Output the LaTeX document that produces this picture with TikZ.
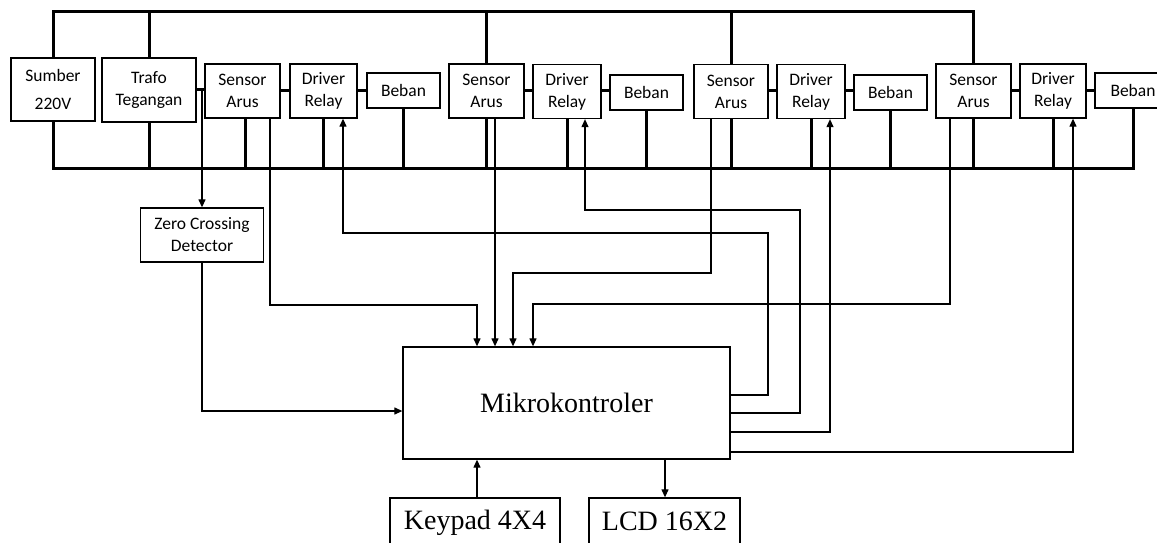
\documentclass[tikz,border=0pt]{standalone}
\usepackage{fontspec}
\setmainfont{Liberation Serif}
\newfontfamily\calib{Carlito}
\usetikzlibrary{arrows.meta}
\begin{document}
\begin{tikzpicture}[x=1pt,y=-1pt,
  box/.style={draw, line width=1.3pt, inner sep=0pt, align=center,
    font=\calib\fontsize{17.5}{22}\selectfont},
  bigbox/.style={draw, line width=1.3pt, inner sep=0pt, align=center,
    font=\fontsize{28}{30}\selectfont},
  bus/.style={line width=3pt},
  link/.style={line width=3pt},
  sig/.style={line width=1.2pt},
  arr/.style={-{Triangle[length=8pt,width=7pt]}}]
\useasboundingbox (0,0) rectangle (1157,543);
\clip (0,0) rectangle (1157,543);
% top row
\node[box, minimum width=84pt, minimum height=63pt] (sumber) at (53,89.5) {Sumber\\[6pt]220V};
\node[box, minimum width=94pt, minimum height=64pt] (trafo) at (149,90) {Trafo\\Tegangan};
\node[box, minimum width=75pt, minimum height=54pt] (sa1) at (242.5,91) {Sensor\\Arus};
\node[box, minimum width=67pt, minimum height=54pt] (dr1) at (323.5,91) {Driver\\Relay};
\node[box, minimum width=73pt, minimum height=35pt] (bb1) at (403.5,90.5) {Beban};
\node[box, minimum width=75pt, minimum height=54pt] (sa2) at (486.5,91) {Sensor\\Arus};
\node[box, minimum width=68pt, minimum height=54pt] (dr2) at (567,91.5) {Driver\\Relay};
\node[box, minimum width=73pt, minimum height=35pt] (bb2) at (646.5,92.5) {Beban};
\node[box, minimum width=74pt, minimum height=54pt] (sa3) at (731,91.5) {Sensor\\Arus};
\node[box, minimum width=68pt, minimum height=54pt] (dr3) at (811,91.5) {Driver\\Relay};
\node[box, minimum width=73pt, minimum height=35pt] (bb3) at (890.5,92.5) {Beban};
\node[box, minimum width=75pt, minimum height=54pt] (sa4) at (973.5,91) {Sensor\\Arus};
\node[box, minimum width=66pt, minimum height=54pt] (dr4) at (1053,91) {Driver\\Relay};
\node[box, minimum width=76pt, minimum height=35pt] (bb4) at (1133,90.5) {Beban};
% lower blocks
\node[box, minimum width=123pt, minimum height=54pt] (zcd) at (202,235) {Zero Crossing\\Detector};
\node[bigbox, minimum width=327pt, minimum height=112pt] (mikro) at (566.5,403) {\raisebox{-5pt}{Mikrokontroler}};
\node[bigbox, minimum width=170pt, minimum height=50pt] (keypad) at (475,523) {\raisebox{3pt}{Keypad 4X4}};
\node[bigbox, minimum width=151pt, minimum height=50pt] (lcd) at (664.5,523) {\raisebox{3pt}{LCD 16X2}};
% buses
\draw[bus] (sumber.north) -- (sumber.north |- 0,12) -- (sa4.north |- 0,12) -- (sa4.north);
\draw[bus] (sumber.south) -- (sumber.south |- 0,168) -- (bb4.south |- 0,168) -- (bb4.south);
\foreach \n in {trafo,sa2,sa3}
  \draw[bus] (\n.north) -- (\n.north |- 0,12);
\foreach \n in {trafo,dr1,bb1,sa2,dr2,bb2,sa3,dr3,bb3,sa4,dr4}
  \draw[bus] (\n.south) -- (\n.south |- 0,168);
\draw[bus] (sa1.south -| 245,0) -- (245,168);
% series connections
\draw[link] (trafo.east |- 0,90) -- (sa1.west |- 0,90);
\foreach \a/\b in {sa1/dr1,dr1/bb1,sa2/dr2,dr2/bb2,sa3/dr3,dr3/bb3,sa4/dr4,dr4/bb4}
  \draw[link] (\a.east |- 0,91) -- (\b.west |- 0,91);
% zero crossing
\coordinate (j) at (202,90);
\draw[sig,arr] (j) -- (zcd.north -| j);
\draw[sig,arr] (zcd.south) |- (mikro.west |- 0,411);
% sensors to mikro
\draw[sig,arr] (sa1.south -| 270,0) |- (477,305) -- (mikro.north -| 477,0);
\draw[sig,arr] (sa2.south -| 495,0) -- (mikro.north -| 495,0);
\draw[sig,arr] (sa3.south -| 711,0) |- (513,273) -- (mikro.north -| 513,0);
\draw[sig,arr] (sa4.south -| 950,0) |- (533,304) -- (mikro.north -| 533,0);
% mikro to drivers
\draw[sig,arr] (mikro.east |- 0,395) -| (768,233) -| (dr1.south -| 343,0);
\draw[sig,arr] (mikro.east |- 0,413) -| (800,210) -| (dr2.south -| 585,0);
\draw[sig,arr] (mikro.east |- 0,432) -| (dr3.south -| 830,0);
\draw[sig,arr] (mikro.east |- 0,452) -| (dr4.south -| 1073,0);
% keypad / lcd
\draw[sig,arr] (keypad.north -| 477,0) -- (mikro.south -| 477,0);
\draw[sig,arr] (mikro.south -| 665,0) -- (lcd.north -| 665,0);
\end{tikzpicture}
\end{document}
